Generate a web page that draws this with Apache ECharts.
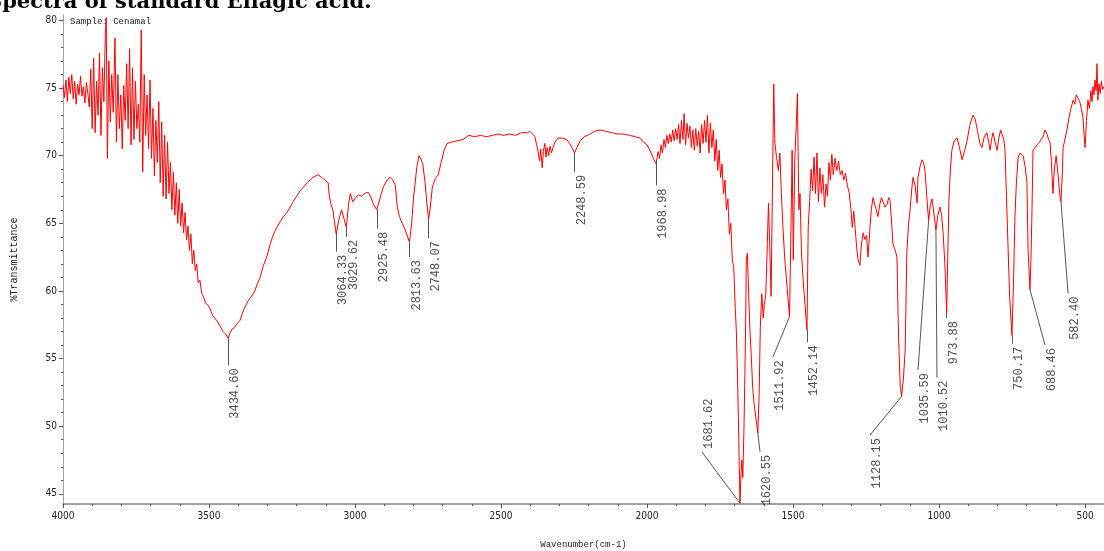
<!DOCTYPE html>
<html>
<head>
<meta charset="utf-8">
<title>Spectra of standard Ellagic acid</title>
<script src="https://cdn.jsdelivr.net/npm/echarts@6/dist/echarts.min.js"></script>
<style>
html, body { margin: 0; padding: 0; background: #fff; }
#chart { width: 1104px; height: 551px; }
</style>
</head>
<body>
<div id="chart"></div>
<script>
// spectrum, [wavenumber cm-1, %T]
var bandOH = [
    [4000,75.2],[3995,74.3],[3990,75.6],[3985,74.0],[3980,75.8],[3975,74.6],[3970,76.0],[3965,74.2],
    [3960,75.5],[3955,73.8],[3950,75.3],[3945,74.5],[3940,75.9],[3935,74.4],[3930,75.1],[3925,73.9],
    [3920,75.4],[3915,74.6],[3910,73.6],[3905,76.4],[3900,72.0],[3895,77.2],[3890,71.7],[3885,75.5],
    [3880,73.0],[3875,77.6],[3870,71.5],[3865,76.5],[3860,74.0],[3855,79.0],[3852,80.2],[3848,69.8],
    [3843,77.0],[3838,72.5],[3833,76.0],[3828,73.2],[3822,78.7],[3817,71.0],[3812,76.0],[3807,72.0],
    [3802,74.5],[3797,70.5],[3792,75.2],[3787,72.6],[3782,76.8],[3777,72.0],[3772,77.9],[3767,70.8],
    [3762,76.5],[3757,71.2],[3752,75.5],[3747,72.0],[3742,73.8],[3737,71.0],[3732,79.3],[3727,68.8],
    [3722,76.0],[3717,71.5],[3712,74.5],[3707,70.5],[3702,75.6],[3697,69.8],[3692,73.5],[3687,68.5],
    [3682,72.6],[3677,69.5],[3672,74.0],[3667,68.0],[3662,72.5],[3657,67.0],[3652,71.5],[3647,66.8],
    [3642,71.0],[3637,67.2],[3632,69.5],[3627,66.0],[3622,68.8],[3617,65.6],[3612,68.0],[3607,65.0],
    [3602,67.5],[3597,64.8],[3592,66.5],[3587,64.3],[3582,65.8],[3577,63.8],[3572,64.8],[3567,63.0],
    [3562,64.2],[3557,62.0],[3552,63.0],[3547,61.5],[3542,62.0],[3537,60.6],[3531,60.8],[3525,59.8],
    [3519,59.6],[3512,59.1],[3505,59.0],[3497,58.7],[3488,58.2],[3480,58.0],[3470,57.7],[3462,57.4],
    [3452,57.0],[3443,56.8],[3434.6,56.5],[3428,56.9],[3420,57.2],[3412,57.3],[3404,57.6],[3394,57.8],
    [3385,58.4],[3375,58.9],[3365,59.3],[3355,59.6],[3345,59.9],[3335,60.5],[3325,61.0],[3315,61.8],
    [3301,62.6],[3290,63.5],[3281,64.1],[3270,64.6],[3257,65.1],[3245,65.5],[3233,65.8],[3222,66.2],
    [3212,66.6],[3200,67.0],[3188,67.4],[3176,67.7],[3164,68.0],[3154,68.2],[3144,68.4],[3134,68.5]
];
var bandCH = [
    [3127,68.6],[3115,68.4],[3103,68.2],[3092,68.0],[3088,67.0],[3082,66.4],[3076,66.0],[3064.33,64.2],
    [3055,65.3],[3046,66.0],[3040,66.1],[3029.62,64.7],[3022,66.4],[3016,67.2],[3008,66.6],[2998,66.9],
    [2988,67.1],[2978,67.0],[2968,67.2],[2955,67.3],[2945,66.9],[2937,66.4],[2925.48,66.0],[2915,66.8],
    [2903,67.7],[2890,68.2],[2880,68.4],[2870,68.2],[2862,67.8],[2855,66.2],[2848,65.5],[2838,65.0],
    [2828,64.5],[2820,64.0],[2813.63,63.6],[2806,65.0],[2800,66.8],[2794,68.0],[2788,69.2],[2781,70.0],
    [2775,69.8],[2768,69.4],[2760,68.0],[2754,66.5],[2748.07,65.3],[2742,66.2],[2735,67.7],[2725,68.3],
    [2715,68.6],[2705,69.5],[2695,70.4],[2685,70.9]
];
var plateau = [
    [2670,71.0],[2650,71.1],[2630,71.2],[2610,71.5],[2590,71.4],[2570,71.5],[2550,71.4],[2530,71.5],
    [2510,71.6],[2493,71.5],[2470,71.6],[2450,71.5],[2430,71.7],[2410,71.7],[2401,71.8],[2392,71.6],
    [2384,71.4],[2378,70.8],[2373,70.3],[2368,69.6],[2364,70.5],[2359,69.1],[2355,70.3],[2350,70.9],
    [2346,69.9],[2342,70.6],[2337,70.0],[2332,70.7],[2327,70.2],[2322,70.6],[2315,71.0],[2305,71.3],
    [2290,71.3],[2275,71.2],[2265,70.9],[2257,70.6],[2248.59,70.2],[2240,70.6],[2229,71.1],[2215,71.4],
    [2195,71.6],[2180,71.8],[2160,71.9],[2140,71.8],[2120,71.7],[2100,71.6],[2080,71.6],[2060,71.5],
    [2040,71.4],[2024,71.3],[2012,71.0],[2000,70.8],[1990,70.4],[1980,69.9],[1974,69.6],[1968.98,69.4],
    [1962,70.3],[1957,69.8],[1952,70.8],[1947,70.2],[1942,71.2],[1937,70.6],[1932,71.5],[1927,70.9],
    [1922,71.6],[1917,71.0],[1912,71.9],[1907,71.1],[1902,72.0],[1897,71.2],[1892,72.3],[1887,70.9],
    [1882,72.6],[1877,71.2],[1873,73.1],[1868,70.8],[1863,72.4],[1858,71.3],[1853,72.2],[1848,70.6],
    [1843,71.9],[1838,70.4],[1833,72.0],[1828,70.7],[1823,71.8],[1818,70.2],[1813,72.3],[1808,70.9],
    [1803,72.6],[1798,71.0],[1793,73.0],[1788,70.2],[1783,72.4],[1778,70.6],[1773,71.9],[1768,69.6],
    [1763,71.2],[1758,68.9],[1753,70.4],[1748,68.4]
];
var carbonyl = [
    [1743,69.4],[1738,67.2],[1733,68.2],[1728,66.0],[1723,66.8],[1718,64.2],[1713,65.0],[1708,62.3],
    [1703,61.8],[1698,58.8],[1694,57.0],[1690,53.6],[1687,50.5],[1684,47.0],[1681.62,44.3],[1678,46.5],
    [1675,47.5],[1672,46.2],[1668,49.8],[1665,53.6],[1662,58.0],[1660,62.3],[1656,62.8],[1652,59.8],
    [1648,57.3],[1643,55.2],[1638,52.8],[1633,51.6],[1627,50.6],[1620.55,49.5],[1616,52.4],[1612,57.3],
    [1607,59.8],[1602,58.0],[1598,59.0],[1593,59.8],[1588,63.5],[1584,66.5],[1579,62.8],[1575,59.6],
    [1570,68.4],[1566,75.3],[1562,70.9],[1556,69.8],[1550,68.9],[1545,70.2],[1540,67.2],[1534,64.5],
    [1528,62.3],[1520,60.2],[1511.92,58.1],[1507,64.7],[1503,70.4],[1499,62.3],[1494,69.7],[1489,72.2],
    [1485,74.6],[1480,66.0],[1476,67.2],[1471,62.8],[1466,61.0],[1459,59.0],[1452.14,57.1],[1448,64.7],
    [1443,66.7],[1438,69.0],[1433,67.4],[1428,69.9],[1423,67.2],[1418,70.2],[1413,66.6],[1408,69.1],
    [1403,67.2],[1398,68.6],[1392,66.2],[1387,67.9],[1382,67.0],[1377,69.5],[1372,68.2],[1367,70.1],
    [1362,68.6],[1356,69.8],[1350,68.9],[1344,69.6],[1338,68.6],[1332,68.9],[1326,68.2],[1320,68.7],
    [1314,67.8],[1308,67.3]
];
var fingerprint = [
    [1302,66.1],[1297,64.7],[1292,65.9],[1287,64.6],[1282,63.2],[1277,62.3],[1271,61.9],[1266,63.4],
    [1260,64.3],[1254,63.8],[1248,64.1],[1243,62.5],[1237,64.5],[1232,66.0],[1226,66.9],[1220,66.4],
    [1215,66.0],[1209,65.5],[1203,66.4],[1197,66.9],[1192,66.8],[1185,66.2],[1178,66.4],[1172,66.9],
    [1168,66.7],[1162,65.0],[1158,63.5],[1150,63.0],[1144,62.5],[1140,58.0],[1137,55.6],[1133,53.0],
    [1128.15,52.2],[1122,53.5],[1116,55.6],[1110,63.0],[1104,65.0],[1099,66.0],[1094,67.4],[1089,68.4],
    [1082,67.8],[1075,66.5],[1072,68.4],[1065,69.2],[1058,69.7],[1052,69.4],[1048,68.9],[1042,67.0],
    [1035.59,65.2],[1030,66.3],[1024,66.8],[1018,65.8],[1010.52,64.5],[1004,65.6],[997,66.2],[991,65.6],
    [986,64.3],[980,62.0],[973.88,58.4],[970,62.5],[966,66.7],[961,69.0],[956,70.4],[948,71.1],
    [938,71.3],[930,70.6],[921,69.7],[912,70.4],[904,71.1],[895,72.2],[884,73.0],[876,72.7],
    [868,71.8],[860,70.9],[853,70.6],[845,71.4],[836,71.7],[830,71.0],[825,70.4],[820,71.2],
    [815,71.7],[808,71.0],[801,70.4],[795,71.3],[789,71.9],[784,71.9],[778,71.2],[774,70.4],
    [769,67.0],[764,63.5],[758,59.5],[750.17,56.7],[745,60.5],[740,65.5],[735,68.0],[729,69.9],
    [722,70.2],[716,70.1],[712,70.0],[705,69.2],[699,68.0],[695,63.0],[688.46,60.1],[685,62.5],
    [682,65.5],[678,70.4],[672,70.5],[664,70.8],[656,71.0],[647,71.3],[642,71.5],[637,71.9],
    [630,71.6],[625,71.2],[620,71.0],[615,69.5],[610,67.2],[605,69.0],[599,70.0],[592,68.5],
    [586,67.0],[582.4,66.6],[578,68.5],[575,70.6],[568,71.3],[562,71.9],[555,72.8],[548,73.5],
    [541,74.1],[535,73.8],[530,74.5],[524,74.6],[518,74.0],[512,73.4],[507,72.8],[503,71.5],
    [500,70.6],[495,72.6],[490,74.1],[485,73.5],[480,74.8],[476,74.0],[473,75.1],[469,74.5],
    [466,75.6],[462,74.8],[459,76.8],[456,74.1],[452,75.3],[448,74.6],[444,75.5],[440,74.9],[435,75.1]
];

// tick labels
var xTicks = [4000, 3500, 3000, 2500, 2000, 1500, 1000, 500];
var yTicks = [45, 50, 55, 60, 65, 70, 75, 80];

// peak annotations: peak point, end of leader line
var peakLabels = ['3434.60','3064.33','3029.62','2925.48','2813.63','2748.07','2248.59','1968.98','1681.62',
    '1620.55','1511.92','1452.14','1128.15','1035.59','1010.52','973.88','750.17','688.46','582.40'];
var peakWn = [3434.6, 3064.33, 3029.62, 2925.48, 2813.63, 2748.07, 2248.59, 1968.98, 1681.62,
    1620.55, 1511.92, 1452.14, 1128.15, 1035.59, 1010.52, 973.88, 750.17, 688.46, 582.4];
var peakT = [56.5, 64.2, 64.7, 66.0, 63.6, 65.3, 70.2, 69.6, 44.3,
    49.5, 58.1, 57.1, 52.2, 65.2, 64.5, 58.4, 56.7, 60.1, 66.6];
var leaderWn = [3434.6, 3064.33, 3029.62, 2925.48, 2813.63, 2748.07, 2248.59, 1968.98, 1812,
    1613, 1569, 1452.14, 1236, 1072, 1007, 973.88, 750.17, 637, 558];
var leaderT = [54.5, 62.9, 64.0, 64.6, 62.5, 63.9, 68.8, 67.8, 48.1,
    48.1, 55.1, 56.2, 49.35, 54.15, 53.6, 58.0, 56.1, 56.0, 59.8];
var labelAbove = ['1681.62'];

var spectrum = bandOH.concat(bandCH, plateau, carbonyl, fingerprint);

var leaders = [];
var labelPoints = [];
for (var i = 0; i < peakLabels.length; ++i) {
    leaders.push([{ coord: [peakWn[i], peakT[i]] }, { coord: [leaderWn[i], leaderT[i]] }]);
    labelPoints.push({
        value: [leaderWn[i], leaderT[i]],
        label: {
            formatter: peakLabels[i],
            align: labelAbove.indexOf(peakLabels[i]) >= 0 ? 'left' : 'right'
        }
    });
}

var narrow = "'Liberation Sans Narrow', 'DejaVu Sans Condensed', sans-serif";
var mono = "'Liberation Mono', 'DejaVu Sans Mono', monospace";
var plain = function (v) { return String(v); };

var chart = echarts.init(document.getElementById('chart'));
chart.setOption({
    animation: false,
    backgroundColor: '#fff',
    title: [{
        text: 'Spectra of standard Ellagic acid.',
        left: -13,
        top: -8,
        padding: 0,
        textStyle: { fontFamily: "'DejaVu Serif', 'Liberation Serif', serif", fontWeight: 'bold', fontSize: 21, color: '#000' }
    }, {
        text: 'Sample: Cenamal',
        left: 70,
        top: 17,
        padding: 0,
        textStyle: { fontFamily: mono, fontWeight: 'normal', fontSize: 9, color: '#222' }
    }],
    grid: { left: 63, right: 0, top: 15, bottom: 47, outerBoundsMode: 'none' },
    xAxis: {
        type: 'value',
        inverse: true,
        min: 435,
        max: 4000,
        splitNumber: 7,
        name: 'Wavenumber(cm-1)',
        nameLocation: 'middle',
        nameGap: 36,
        nameTextStyle: { fontFamily: mono, fontSize: 9, color: '#222' },
        axisLine: { show: true, onZero: false, lineStyle: { color: '#a0a0a0', width: 2 } },
        axisTick: { show: true, length: 4, customValues: xTicks, lineStyle: { color: '#555' } },
        minorTick: { show: true, splitNumber: 5, length: 2, lineStyle: { color: '#555' } },
        axisLabel: { customValues: xTicks, formatter: plain, margin: 7, fontFamily: narrow, fontSize: 10, color: '#222' },
        splitLine: { show: false }
    },
    yAxis: {
        type: 'value',
        min: 44.25,
        max: 80.4,
        splitNumber: 7,
        name: '%Transmittance',
        nameLocation: 'middle',
        nameRotate: 90,
        nameGap: 44,
        nameTextStyle: { fontFamily: mono, fontSize: 10, color: '#222' },
        axisLine: { show: true, lineStyle: { color: '#a0a0a0', width: 1 } },
        axisTick: { show: true, length: 4, customValues: yTicks, lineStyle: { color: '#555' } },
        minorTick: { show: true, splitNumber: 5, length: 2, lineStyle: { color: '#555' } },
        axisLabel: { customValues: yTicks, formatter: plain, margin: 6, fontFamily: narrow, fontSize: 10, color: '#222' },
        splitLine: { show: false }
    },
    series: [{
        type: 'line',
        data: spectrum,
        symbol: 'none',
        silent: true,
        lineStyle: { color: '#ff0000', width: 1 },
        markLine: {
            silent: true,
            symbol: ['none', 'none'],
            label: { show: false },
            lineStyle: { color: '#555', width: 1, type: 'solid' },
            data: leaders
        }
    }, {
        type: 'scatter',
        data: labelPoints,
        symbolSize: 0,
        silent: true,
        label: {
            show: true,
            position: [0, 0],
            rotate: 90,
            verticalAlign: 'top',
            padding: [1, 3, 0, 3],
            fontFamily: mono,
            fontSize: 12,
            color: '#222'
        }
    }]
});
</script>
</body>
</html>
